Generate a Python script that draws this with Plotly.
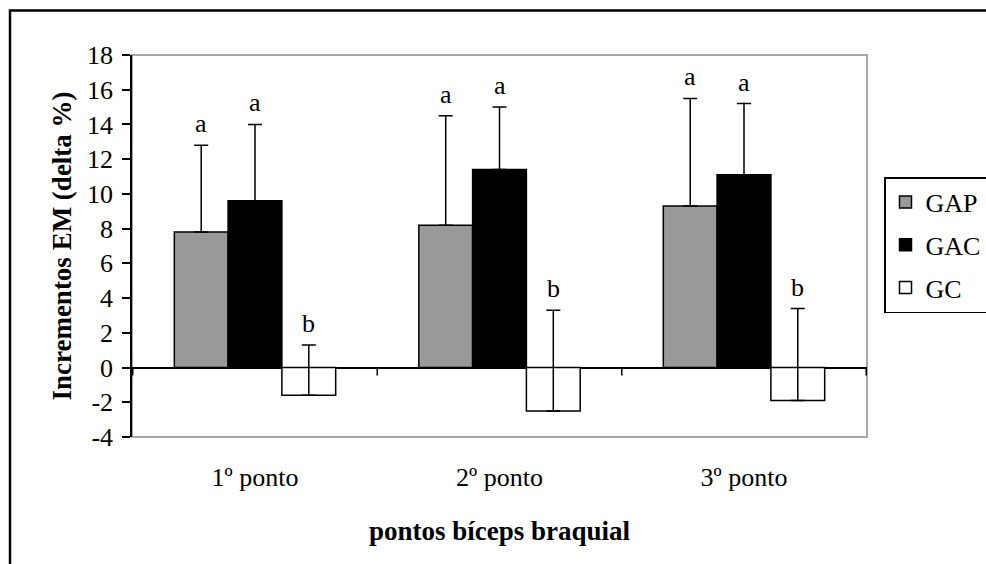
import plotly.graph_objects as go

categories = ["1º ponto", "2º ponto", "3º ponto"]
series_names = ["GAP", "GAC", "GC"]
gap_values = [7.8, 8.2, 9.3]
gac_values = [9.6, 11.4, 11.1]
gc_values = [-1.6, -2.5, -1.9]
gap_err = [5.0, 6.3, 6.2]
gac_err = [4.4, 3.6, 4.1]
gc_err = [2.9, 5.8, 5.3]
gap_letters = ["a", "a", "a"]
gac_letters = ["a", "a", "a"]
gc_letters = ["b", "b", "b"]
y_ticks = [-4, -2, 0, 2, 4, 6, 8, 10, 12, 14, 16, 18]

FONT = "Times New Roman, Liberation Serif, serif"
W, H = 986, 564
ML, MT = 132, 55
PW, PH = 735, 382
MR, MB = W - ML - PW, H - MT - PH
BARGAP = 0.34

values = [gap_values, gac_values, gc_values]
errors = [gap_err, gac_err, gc_err]
letters = [gap_letters, gac_letters, gc_letters]
colors = ["#999999", "#000000", "#ffffff"]

fig = go.Figure()
for k, name in enumerate(series_names):
    fig.add_trace(go.Bar(
        x=categories, y=values[k], name=name,
        legendgroup=name,
        marker=dict(color=colors[k], line=dict(color="black", width=1.5)),
        error_y=dict(type="data", symmetric=False, array=errors[k],
                     arrayminus=[0] * len(categories),
                     color="black", thickness=1.5, width=7),
    ))

n = len(series_names)
bw = (1 - BARGAP) / n
for k in range(n):
    off = (k - (n - 1) / 2) * bw
    for i, cat in enumerate(categories):
        fig.add_annotation(
            x=i + off, y=values[k][i] + errors[k][i], xref="x", yref="y",
            text=letters[k][i], showarrow=False, yanchor="bottom", yshift=5,
            font=dict(family=FONT, size=26, color="black"))

# category boundary ticks on the zero line
for i in range(len(categories) + 1):
    fig.add_shape(type="line", xref="x", yref="y", ysizemode="pixel",
                  yanchor=0, x0=i - 0.5, x1=i - 0.5, y0=0, y1=-8,
                  line=dict(color="black", width=1.5), layer="above")

# gray plot-area border
fig.add_shape(type="rect", xref="paper", yref="paper", x0=0, x1=1, y0=0, y1=1,
              line=dict(color="#8c8c8c", width=1.5), layer="below")
# outer frame (left/top edges visible, right/bottom beyond the page)
fig.add_shape(type="rect", xref="paper", yref="paper",
              x0=(10 - ML) / PW, x1=(W + 20 - ML) / PW,
              y0=(MT + PH - (H + 20)) / PH, y1=(MT + PH - 10.5) / PH,
              line=dict(color="black", width=2.5), layer="above")

fig.update_layout(
    width=W, height=H,
    margin=dict(l=ML, r=MR, t=MT, b=MB, autoexpand=False),
    paper_bgcolor="white", plot_bgcolor="white",
    barmode="group", bargap=BARGAP, bargroupgap=0,
    font=dict(family=FONT, size=26, color="black"),
    showlegend=True,
    legend=dict(x=(884 - ML) / PW, xanchor="left",
                y=(MT + PH - 177) / PH, yanchor="top",
                bordercolor="black", borderwidth=1.5, bgcolor="white",
                font=dict(family=FONT, size=26, color="black"),
                traceorder="grouped", tracegroupgap=6),
    xaxis=dict(showgrid=False, zeroline=False, showline=False, ticks="",
               tickfont=dict(family=FONT, size=26), ticklabelstandoff=22,
               title=dict(text="<b>pontos bíceps braquial</b>",
                          font=dict(family=FONT, size=27), standoff=30)),
    yaxis=dict(range=[-4, 18], tickvals=y_ticks,
               ticktext=[str(v) for v in y_ticks], showgrid=False,
               zeroline=True, zerolinecolor="black", zerolinewidth=1.5,
               showline=True, linecolor="black", linewidth=1.5,
               ticks="outside", ticklen=8, tickwidth=1.5, tickcolor="black",
               tickfont=dict(family=FONT, size=26), ticklabelstandoff=4,
               title=dict(text="<b>Incrementos EM (delta %)</b>",
                          font=dict(family=FONT, size=27), standoff=8)),
)

fig.write_html("out.html",
               config={"displayModeBar": False},
               post_script="document.body.style.margin='0';"
                           "document.body.style.overflow='hidden';")
